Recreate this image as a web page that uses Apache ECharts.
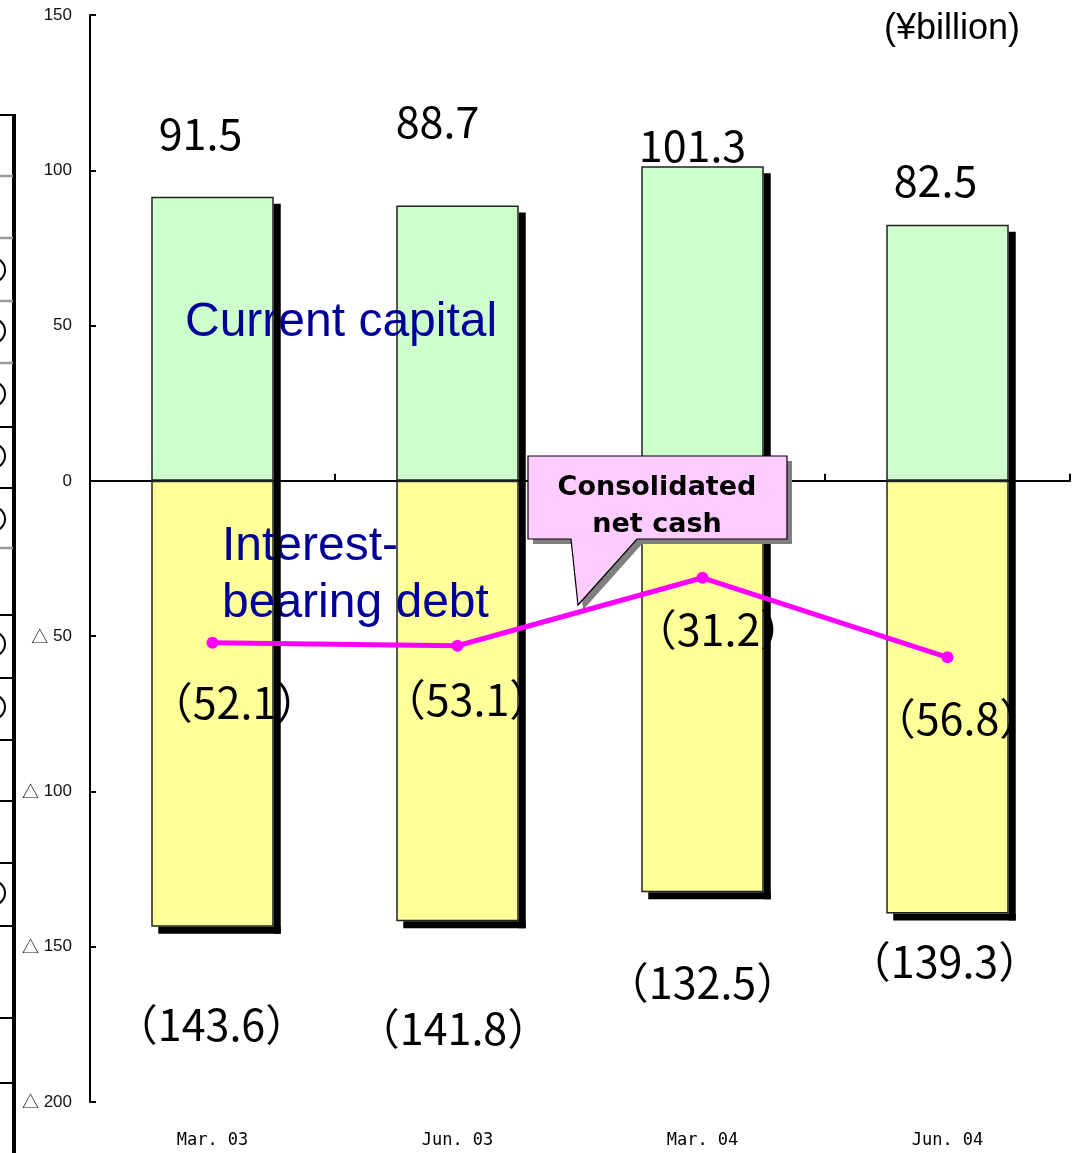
<!DOCTYPE html>
<html>
<head>
<meta charset="utf-8">
<script src="https://cdn.jsdelivr.net/npm/echarts@6/dist/echarts.min.js"></script>
<style>
  html, body { margin: 0; padding: 0; background: #fff; }
  #chart { width: 1079px; height: 1153px; }
</style>
</head>
<body>
<div id="chart"></div>
<script>
// Period labels along the bottom
const categories = ['Mar. 03', 'Jun. 03', 'Mar. 04', 'Jun. 04'];
// ¥ billion
const currentCapital = [91.5, 88.7, 101.3, 82.5];
const interestBearingDebt = [-143.6, -141.8, -132.5, -139.3];
const netCash = [-52.1, -53.1, -31.2, -56.8];
// Value axis range and step
const yMin = -200, yMax = 150, yStep = 50;

// Hand-placed label nudges [dx, dy] in pixels
const capitalLabelNudge = [[-12, -63], [-20, -84], [-10, -21], [-12, -44]];
const debtLabelNudge = [[-1, 98], [-4, 107], [0, 90], [-3, 48]];
const netCashLabelNudge = [[22, 60], [10, 54], [16, 52], [10, 61]];

const numFont = '"Noto Sans CJK JP", "Noto Sans", sans-serif';
const numSize = 43;
const paren = v => '\uFF08' + Math.abs(v).toFixed(1) + '\uFF09';

const chart = echarts.init(document.getElementById('chart'), null, { renderer: 'canvas' });

// Drop shadow of each stacked column, drawn above the fills and the captions
function renderShadow(params, api) {
  const i = api.value(0);
  const top = api.coord([i, api.value(1)]);
  const bottom = api.coord([i, api.value(2)]);
  const half = api.size([1, 0])[0] * 0.25;
  const d = 7;
  return {
    type: 'group',
    children: [
      { type: 'rect', shape: { x: top[0] + half, y: top[1] + d, width: d, height: bottom[1] - top[1] }, style: { fill: '#000' } },
      { type: 'rect', shape: { x: top[0] - half + d, y: bottom[1], width: 2 * half, height: d }, style: { fill: '#000' } }
    ]
  };
}

// Fragment of the neighbouring table at the left page edge
const edgeRulesGrey = [176, 238, 301, 363, 548];
const edgeRulesBlack = [115, 427, 488, 615, 678, 740, 801, 863, 926, 1018, 1083];
const edgeCircles = [270, 331, 394, 456, 519, 644, 707, 893];
const edgeGraphics = [
  { type: 'line', shape: { x1: 14, y1: 114, x2: 14, y2: 1153 }, style: { stroke: '#000', lineWidth: 4 }, z: 10 }
];
edgeRulesGrey.forEach(y => edgeGraphics.push({ type: 'line', shape: { x1: 0, y1: y, x2: 13, y2: y }, style: { stroke: '#9a9a9a', lineWidth: 2.5 }, z: 10 }));
edgeRulesBlack.forEach(y => edgeGraphics.push({ type: 'line', shape: { x1: 0, y1: y, x2: 14, y2: y }, style: { stroke: '#000', lineWidth: 2 }, z: 10 }));
edgeCircles.forEach(y => edgeGraphics.push({ type: 'circle', shape: { cx: -7, cy: y, r: 12 }, style: { fill: null, stroke: '#000', lineWidth: 2 }, z: 10 }));

const captionStyle = { fill: '#000099', font: '48px "Liberation Sans", Arial, sans-serif', textVerticalAlign: 'middle' };

const option = {
  animation: false,
  backgroundColor: '#fff',
  grid: { left: 90, top: 15, right: 9, bottom: 51, containLabel: false },
  xAxis: [
    {
      type: 'category',
      data: categories,
      boundaryGap: true,
      axisLine: { onZero: true, lineStyle: { color: '#000', width: 2 } },
      axisTick: { show: true, inside: true, length: 7, lineStyle: { color: '#000', width: 2 } },
      axisLabel: { show: false },
      splitLine: { show: false }
    },
    {
      type: 'category',
      data: categories,
      position: 'bottom',
      axisLine: { show: false, onZero: false },
      axisTick: { show: false },
      axisLabel: { show: true, margin: 30, color: '#000', fontSize: 17, fontFamily: '"DejaVu Sans Mono", monospace' },
      splitLine: { show: false }
    }
  ],
  yAxis: {
    type: 'value',
    min: yMin, max: yMax, interval: yStep,
    axisLine: { show: true, lineStyle: { color: '#000', width: 2 } },
    axisTick: { show: true, inside: true, length: 6, lineStyle: { color: '#000', width: 2 } },
    splitLine: { show: false },
    axisLabel: {
      margin: 18, color: '#111', fontSize: 17,
      fontFamily: '"Liberation Sans", Arial, sans-serif',
      formatter: v => (v < 0 ? '{tri|\u25B3} ' + (-v) : String(v)),
      rich: {
        tri: { fontFamily: '"Noto Sans CJK JP", sans-serif', fontSize: 17, color: '#111' }
      }
    }
  },
  series: [
    {
      name: 'Current capital',
      type: 'bar',
      stack: 'total',
      barWidth: '50%',
      z: 2,
      itemStyle: { color: '#ccffcc', borderColor: '#222', borderWidth: 1.5 },
      label: {
        show: true, position: 'outside', distance: 0, align: 'center', verticalAlign: 'middle',
        fontFamily: numFont, fontSize: numSize, color: '#000',
        formatter: p => p.value.toFixed(1)
      },
      data: currentCapital.map((v, i) => ({ value: v, label: { offset: capitalLabelNudge[i] } }))
    },
    {
      name: 'Interest-bearing debt',
      type: 'bar',
      stack: 'total',
      barWidth: '50%',
      z: 2,
      itemStyle: { color: '#ffff99', borderColor: '#222', borderWidth: 1.5 },
      label: {
        show: true, position: 'outside', distance: 0, align: 'center', verticalAlign: 'middle',
        fontFamily: numFont, fontSize: numSize, color: '#000',
        formatter: p => paren(p.value)
      },
      data: interestBearingDebt.map((v, i) => ({ value: v, label: { offset: debtLabelNudge[i] } }))
    },
    {
      name: 'shadow',
      type: 'custom',
      z: 4,
      silent: true,
      renderItem: renderShadow,
      encode: { x: 0, y: [1, 2] },
      data: categories.map((c, i) => [i, currentCapital[i], interestBearingDebt[i]])
    },
    {
      name: 'Consolidated net cash',
      type: 'line',
      z: 6,
      symbol: 'circle',
      symbolSize: 12,
      lineStyle: { color: '#ff00ff', width: 5 },
      itemStyle: { color: '#ff00ff' },
      label: {
        show: true, position: 'inside', align: 'center', verticalAlign: 'middle',
        fontFamily: numFont, fontSize: numSize, color: '#000',
        formatter: p => paren(p.value)
      },
      data: netCash.map((v, i) => ({ value: v, label: { offset: netCashLabelNudge[i] } }))
    }
  ],
  graphic: [
    ...edgeGraphics,
    // Unit note
    { type: 'text', left: 884, top: 11, z: 10,
      style: { text: '(\u00A5billion)', fill: '#000', font: '36px "Liberation Sans", Arial, sans-serif' } },
    // Captions inside the columns
    { type: 'text', x: 185, y: 323, z: 3, style: Object.assign({ text: 'Current capital' }, captionStyle) },
    { type: 'text', x: 222, y: 547, z: 3, style: Object.assign({ text: 'Interest-' }, captionStyle) },
    { type: 'text', x: 222, y: 604, z: 3, style: Object.assign({ text: 'bearing debt' }, captionStyle) },
    // Callout for the net cash line
    {
      type: 'group', z: 5,
      children: [
        { type: 'polygon', z: 5,
          shape: { points: [[533, 461], [792, 461], [792, 544], [642, 544], [583, 610], [576, 544], [533, 544]] },
          style: { fill: '#808080' } },
        { type: 'polygon', z: 5,
          shape: { points: [[528, 456], [787, 456], [787, 539], [637, 539], [578, 605], [571, 539], [528, 539]] },
          style: { fill: '#ffccff', stroke: '#000', lineWidth: 1.2 } },
        { type: 'text', x: 657, y: 488, z: 5,
          style: { text: 'Consolidated', fill: '#000', textAlign: 'center', textVerticalAlign: 'middle',
                   font: 'bold 27px "DejaVu Sans", Verdana, sans-serif' } },
        { type: 'text', x: 657, y: 525, z: 5,
          style: { text: 'net cash', fill: '#000', textAlign: 'center', textVerticalAlign: 'middle',
                   font: 'bold 27px "DejaVu Sans", Verdana, sans-serif' } }
      ]
    }
  ]
};

chart.setOption(option);
</script>
</body>
</html>
